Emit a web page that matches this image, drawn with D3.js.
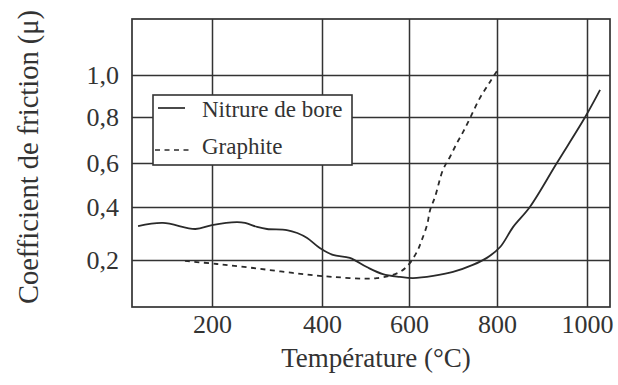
<!DOCTYPE html>
<html>
<head>
<meta charset="utf-8">
<script src="https://cdn.jsdelivr.net/npm/d3@7"></script>
<style>
  html, body { margin: 0; padding: 0; background: #fff; }
  svg { display: block; }
  text { font-family: "Liberation Serif", "Times New Roman", serif; fill: #333; }
</style>
</head>
<body>
<svg id="chart" width="618" height="385"></svg>
<script>
// ---- data ----
const xTicks = [200, 400, 600, 800, 1000];
const yTicks = [0.2, 0.4, 0.6, 0.8, 1.0];

// Nitrure de bore (solid)
const tempBN = [66, 111, 170, 200, 245, 260, 282, 300, 336, 355, 373, 396, 425, 464, 503, 540, 579, 609, 655, 700, 745, 777, 807, 836, 873, 933, 996, 1029];
const muBN   = [0.328, 0.340, 0.317, 0.332, 0.343, 0.340, 0.325, 0.317, 0.313, 0.302, 0.283, 0.245, 0.219, 0.208, 0.170, 0.140, 0.128, 0.123, 0.132, 0.149, 0.179, 0.208, 0.249, 0.325, 0.400, 0.600, 0.800, 0.929];

// Graphite (dashed)
const tempGr = [151, 209, 275, 347, 425, 526, 579, 602, 620, 629, 641, 648, 659, 677, 693, 709, 723, 739, 761, 784, 804];
const muGr   = [0.196, 0.183, 0.166, 0.145, 0.128, 0.123, 0.149, 0.187, 0.238, 0.275, 0.332, 0.389, 0.445, 0.568, 0.626, 0.687, 0.735, 0.796, 0.890, 0.967, 1.033];

const seriesNames = ["Nitrure de bore", "Graphite"];
const xTitle = "Température (°C)";
const yTitle = "Coefficient de friction (μ)";

// ---- layout ----
const svg = d3.select("#chart");
const frame = { left: 132, top: 19, right: 610, bottom: 307 };
const ink = "#333";
const serif = "'Liberation Serif', 'Times New Roman', serif";

// The scanned graph's gridlines are not evenly spaced; piecewise scales follow them.
const x = d3.scaleLinear()
  .domain([55, 200, 400, 600, 800, 1000, 1051])
  .range([frame.left, 212, 322, 409, 497, 587, frame.right]);
const y = d3.scaleLinear()
  .domain([0, 0.2, 0.4, 0.6, 0.8, 1.0, 1.27])
  .range([frame.bottom, 260, 207, 163, 117, 75, frame.top]);

const plotH = frame.bottom - frame.top;
const plotW = frame.right - frame.left;

// x axis with full-height gridlines
const gx = svg.append("g")
  .attr("transform", `translate(0,${frame.bottom})`)
  .call(d3.axisBottom(x).tickValues(xTicks).tickSize(-plotH).tickPadding(8).tickFormat(d3.format("d")));
gx.attr("font-family", serif);
gx.select(".domain").remove();
gx.selectAll(".tick line").attr("stroke", ink).attr("stroke-width", 1.5);
gx.selectAll(".tick text").attr("font-size", 26).attr("fill", "#333");

// y axis with full-width gridlines
const fmtY = v => d3.format(".1f")(v).replace(".", ",");
const gy = svg.append("g")
  .attr("transform", `translate(${frame.left},0)`)
  .call(d3.axisLeft(y).tickValues(yTicks).tickSize(-plotW).tickPadding(13).tickFormat(fmtY));
gy.attr("font-family", serif);
gy.select(".domain").remove();
gy.selectAll(".tick line").attr("stroke", ink).attr("stroke-width", 1.5);
gy.selectAll(".tick text").attr("font-size", 26).attr("fill", "#333");

// frame
svg.append("rect")
  .attr("x", frame.left).attr("y", frame.top)
  .attr("width", plotW).attr("height", plotH)
  .attr("fill", "none").attr("stroke", ink).attr("stroke-width", 1.7);

// curves
const bn = tempBN.map((t, i) => [t, muBN[i]]);
const gr = tempGr.map((t, i) => [t, muGr[i]]);
const line = d3.line().x(d => x(d[0])).y(d => y(d[1])).curve(d3.curveCatmullRom.alpha(0.5));

svg.append("path").datum(bn).attr("d", line)
  .attr("fill", "none").attr("stroke", "#2a2a2a").attr("stroke-width", 1.8);
svg.append("path").datum(gr).attr("d", line)
  .attr("fill", "none").attr("stroke", "#2a2a2a").attr("stroke-width", 1.8)
  .attr("stroke-dasharray", "5,4.5");

// legend
const lg = svg.append("g").attr("transform", "translate(153,95)");
lg.append("rect").attr("width", 199).attr("height", 70)
  .attr("fill", "#fff").attr("stroke", ink).attr("stroke-width", 1.6);
lg.append("line").attr("x1", 5).attr("x2", 32).attr("y1", 13).attr("y2", 13)
  .attr("stroke", "#2a2a2a").attr("stroke-width", 1.7);
lg.append("line").attr("x1", 2).attr("x2", 38).attr("y1", 55).attr("y2", 55)
  .attr("stroke", "#2a2a2a").attr("stroke-width", 1.7).attr("stroke-dasharray", "5,4.5");
lg.append("text").attr("x", 49).attr("y", 22).attr("font-size", 23).text(seriesNames[0]);
lg.append("text").attr("x", 49).attr("y", 59).attr("font-size", 23).text(seriesNames[1]);

// axis titles
svg.append("text")
  .attr("x", 376).attr("y", 367)
  .attr("text-anchor", "middle").attr("font-size", 27)
  .text(xTitle);
svg.append("text")
  .attr("transform", "translate(38,157) rotate(-90)")
  .attr("text-anchor", "middle").attr("font-size", 28.5)
  .text(yTitle);
</script>
</body>
</html>
